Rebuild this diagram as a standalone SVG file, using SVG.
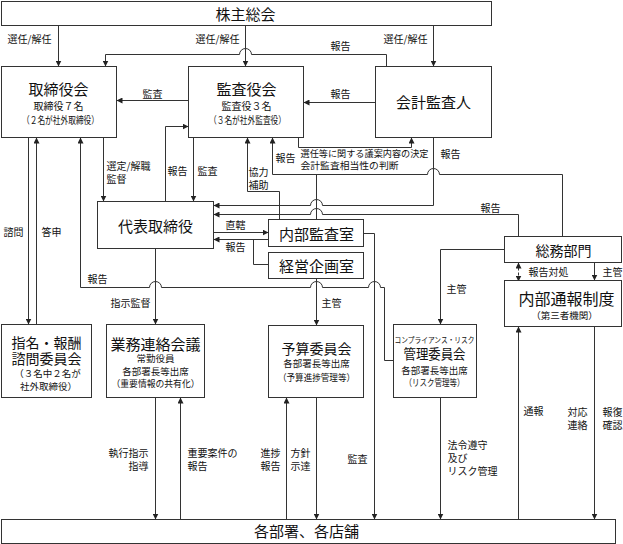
<svg xmlns="http://www.w3.org/2000/svg" width="623" height="544" viewBox="0 0 623 544">
<style>
.box{fill:#fff;stroke:#333;stroke-width:1}
.ln{fill:none;stroke:#333;stroke-width:1}
.ar{marker-end:url(#ah)}
.dash{stroke-dasharray:3 2}
text{font-family:"Noto Sans CJK JP","Noto Sans",sans-serif;fill:#111;dominant-baseline:central}
.c{text-anchor:middle}
.e{text-anchor:end}
.t16{font-size:16px}
.t15{font-size:15px}
.t14{font-size:14px}
.t10{font-size:10px}
.t9{font-size:9.5px}
.t8{font-size:8px}
.lb{font-size:10px}
</style>
<defs>
<marker id="ah" viewBox="0 0 6 6" refX="6" refY="3" markerWidth="6" markerHeight="6" markerUnits="userSpaceOnUse" orient="auto-start-reverse"><path d="M0,0 L6,3 L0,6 z" fill="#222"/></marker>
</defs>
<rect width="623" height="544" fill="#fff"/>
<g transform="translate(0.5 0.5)">
<g id="connectors">
<path class="ln ar" d="M58,25 V66"/>
<path class="ln ar" d="M245,25 V66"/>
<path class="ln ar" d="M433,25 V66"/>
<path class="ln ar" d="M386,66 V54 H251 A6,6 0 0 0 239,54 H105 V66"/>
<path class="ln ar" d="M188,100 H116"/>
<path class="ln ar" d="M375,102 H303"/>
<path class="ln ar" d="M165,201 V126 H188"/>
<path class="ln ar" d="M103,137 V201"/>
<path class="ln ar" d="M193,137 V201"/>
<path class="ln ar" d="M28,137 V324"/>
<path class="ln ar" d="M36,324 V137"/>
<path class="ln ar" d="M393,360 H384 V287 H380 A6,6 0 0 0 368,287 H322 A6,6 0 0 0 310,287 H161 A6,6 0 0 0 149,287 H80 V137"/>
<path class="ln ar" d="M279,219 V191 H247 V137"/>
<path class="ln ar" d="M562,236 V174 H439 A6,6 0 0 0 427,174 H272 V137"/>
<path class="ln" d="M316,219 V174"/>
<path class="ln ar" d="M433,137 V205 H322 A6,6 0 0 0 310,205 H213"/>
<path class="ln ar" d="M518,236 V214 H322 A6,6 0 0 0 310,214 H213"/>
<path class="ln ar" d="M298,137 V147 H411 V137"/>
<path class="ln ar" d="M213,232 H268"/>
<path class="ln ar" d="M268,239 H213"/>
<path class="ln" d="M268,264 H253 V239"/>
<path class="ln ar" d="M363,233 H374 V519"/>
<path class="ln ar" d="M316,278 V325"/>
<path class="ln ar" d="M155,248 V324"/>
<path class="ln ar" d="M504,249 H440 V324"/>
<path class="ln dash ar" style="marker-start:url(#ah)" d="M518,262 V281"/>
<path class="ln dash" d="M518,281 V326"/>
<path class="ln ar" d="M594,262 V280"/>
<path class="ln ar" d="M518,519 V326"/>
<path class="ln ar" d="M594,326 V519"/>
<path class="ln ar" d="M155,397 V519"/>
<path class="ln ar" d="M180,519 V397"/>
<path class="ln ar" d="M286,519 V397"/>
<path class="ln ar" d="M316,397 V519"/>
<path class="ln ar" d="M440,397 V519"/>
</g>
<g id="labels">
<text class="lb" x="7" y="38">選任/解任</text>
<text class="lb" x="195" y="38">選任/解任</text>
<text class="lb" x="383" y="38">選任/解任</text>
<text class="lb" x="330" y="45">報告</text>
<text class="lb" x="142" y="93">監査</text>
<text class="lb" x="330" y="93">報告</text>
<text class="lb"><tspan x="106" y="164">選定/解職</tspan><tspan x="106" y="177">監督</tspan></text>
<text class="lb" x="167" y="170">報告</text>
<text class="lb" x="197" y="170">監査</text>
<text class="lb"><tspan x="248" y="170">協力</tspan><tspan x="248" y="183">補助</tspan></text>
<text class="lb" x="275" y="157">報告</text>
<text class="t9"><tspan x="300" y="152" textLength="128" lengthAdjust="spacingAndGlyphs">選任等に関する議案内容の決定</tspan><tspan x="300" y="164" textLength="98" lengthAdjust="spacingAndGlyphs">会計監査相当性の判断</tspan></text>
<text class="lb" x="440" y="153">報告</text>
<text class="lb" x="480" y="207">報告</text>
<text class="lb" x="225" y="224">直轄</text>
<text class="lb" x="225" y="246">報告</text>
<text class="lb" x="3" y="231">諮問</text>
<text class="lb" x="41" y="231">答申</text>
<text class="lb" x="87" y="278">報告</text>
<text class="lb" x="110" y="302">指示監督</text>
<text class="lb" x="321" y="302">主管</text>
<text class="lb" x="446" y="288">主管</text>
<text class="lb" x="528" y="271">報告対処</text>
<text class="lb" x="602" y="271">主管</text>
<text class="lb e"><tspan x="148" y="451">執行指示</tspan><tspan x="148" y="464">指導</tspan></text>
<text class="lb"><tspan x="187" y="451">重要案件の</tspan><tspan x="187" y="464">報告</tspan></text>
<text class="lb e"><tspan x="280" y="451">進捗</tspan><tspan x="280" y="464">報告</tspan></text>
<text class="lb"><tspan x="290" y="451">方針</tspan><tspan x="290" y="464">示達</tspan></text>
<text class="lb" x="347" y="458">監査</text>
<text class="lb"><tspan x="447" y="443">法令遵守</tspan><tspan x="447" y="456">及び</tspan><tspan x="447" y="469">リスク管理</tspan></text>
<text class="lb" x="523" y="410">通報</text>
<text class="lb"><tspan x="567" y="410">対応</tspan><tspan x="567" y="423">連絡</tspan></text>
<text class="lb"><tspan x="602" y="410">報復</tspan><tspan x="602" y="423">確認</tspan></text>
</g>
<g id="shareholders">
<rect class="box" x="1" y="1" width="490" height="24"/>
<text class="c t15" x="245" y="13">株主総会</text>
</g>
<g id="board">
<rect class="box" x="1" y="66" width="115" height="71"/>
<text class="c"><tspan class="t15" x="58" y="87">取締役会</tspan><tspan class="t10" x="58" y="104">取締役７名</tspan><tspan class="t10" x="60" y="118" textLength="77" lengthAdjust="spacingAndGlyphs">（２名が社外取締役）</tspan></text>
</g>
<g id="auditors">
<rect class="box" x="188" y="66" width="115" height="71"/>
<text class="c"><tspan class="t15" x="246" y="87">監査役会</tspan><tspan class="t10" x="246" y="104">監査役３名</tspan><tspan class="t10" x="247" y="118" textLength="77" lengthAdjust="spacingAndGlyphs">（３名が社外監査役）</tspan></text>
</g>
<g id="accounting-auditor">
<rect class="box" x="375" y="66" width="116" height="71"/>
<text class="c t15" x="433" y="101">会計監査人</text>
</g>
<g id="representative">
<rect class="box" x="97" y="201" width="116" height="47"/>
<text class="c t15" x="155" y="225">代表取締役</text>
</g>
<g id="internal-audit">
<rect class="box" x="268" y="219" width="95" height="27"/>
<text class="c t15" x="316" y="233">内部監査室</text>
</g>
<g id="planning">
<rect class="box" x="268" y="252" width="95" height="26"/>
<text class="c t15" x="316" y="265">経営企画室</text>
</g>
<g id="general-affairs">
<rect class="box" x="504" y="236" width="117" height="26"/>
<text class="c t14" x="563" y="249">総務部門</text>
</g>
<g id="whistleblowing">
<rect class="box" x="504" y="280" width="117" height="46"/>
<text class="c"><tspan class="t16" x="566" y="297">内部通報制度</tspan><tspan class="t9" x="564" y="314">（第三者機関）</tspan></text>
</g>
<g id="nomination">
<rect class="box" x="1" y="324" width="90" height="73"/>
<text class="c"><tspan class="t14" x="46" y="341">指名・報酬</tspan><tspan class="t14" x="46" y="357">諮問委員会</tspan><tspan class="t9" x="47" y="372">（３名中２名が</tspan><tspan class="t9" x="48" y="385">社外取締役）</tspan></text>
</g>
<g id="business-liaison">
<rect class="box" x="106" y="324" width="98" height="73"/>
<text class="c"><tspan class="t15" x="155" y="342">業務連絡会議</tspan><tspan class="t9" x="155" y="357">常勤役員</tspan><tspan class="t9" x="155" y="370">各部署長等出席</tspan><tspan class="t9" x="155" y="382" textLength="88" lengthAdjust="spacingAndGlyphs">（重要情報の共有化）</tspan></text>
</g>
<g id="budget">
<rect class="box" x="268" y="325" width="95" height="72"/>
<text class="c"><tspan class="t14" x="316" y="347">予算委員会</tspan><tspan class="t9" x="316" y="362">各部署長等出席</tspan><tspan class="t9" x="316" y="376" textLength="77" lengthAdjust="spacingAndGlyphs">（予算進捗管理等）</tspan></text>
</g>
<g id="compliance">
<rect class="box" x="393" y="324" width="83" height="73"/>
<text class="c"><tspan class="t8" x="434" y="338" textLength="80" lengthAdjust="spacingAndGlyphs">コンプライアンス・リスク</tspan><tspan class="t14" x="434" y="352" textLength="62" lengthAdjust="spacingAndGlyphs">管理委員会</tspan><tspan class="t9" x="434" y="369">各部署長等出席</tspan><tspan class="t9" x="434" y="381" textLength="60" lengthAdjust="spacingAndGlyphs">（リスク管理等）</tspan></text>
</g>
<g id="departments">
<rect class="box" x="1" y="519" width="614" height="24"/>
<text class="c t15" x="306" y="530">各部署、各店舗</text>
</g>
</g>
</svg>
